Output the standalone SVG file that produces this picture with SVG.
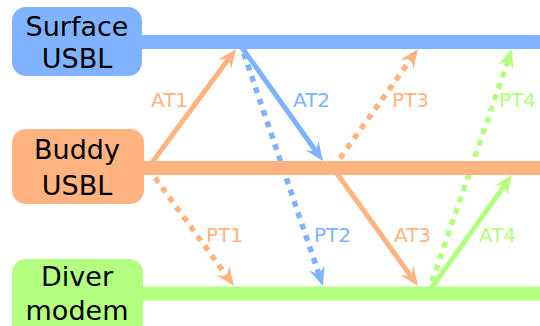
<svg xmlns="http://www.w3.org/2000/svg" width="540" height="326" viewBox="0 0 540 326">
<style>
.box-text{font-family:"DejaVu Sans",sans-serif;font-size:27px;fill:#000;text-anchor:middle}
.lbl{font-family:"DejaVu Sans",sans-serif;font-size:20px}
.blue{stroke:#80b3ff}
.orange{stroke:#ffb380}
.green{stroke:#b3ff80}
.solid{stroke-width:5;fill:none}
.dotted{stroke-width:5.5;fill:none;stroke-dasharray:6 6}
.life{stroke-width:14;fill:none}
</style>
<defs>
<marker id="hb" viewBox="-8 -9 22 18" markerWidth="22" markerHeight="18" refX="0" refY="0" orient="auto" markerUnits="userSpaceOnUse"><path d="M12,0 L-7,-8 L0,0 L-7,8 Z" fill="#80b3ff"/></marker>
<marker id="ho" viewBox="-8 -9 22 18" markerWidth="22" markerHeight="18" refX="0" refY="0" orient="auto" markerUnits="userSpaceOnUse"><path d="M12,0 L-7,-8 L0,0 L-7,8 Z" fill="#ffb380"/></marker>
<marker id="hg" viewBox="-8 -9 22 18" markerWidth="22" markerHeight="18" refX="0" refY="0" orient="auto" markerUnits="userSpaceOnUse"><path d="M12,0 L-7,-8 L0,0 L-7,8 Z" fill="#b3ff80"/></marker>
</defs>
<g id="connectors">
<line class="solid orange" x1="148" y1="168" x2="228.9" y2="58.6" marker-end="url(#ho)"/>
<line class="solid blue" x1="238" y1="42" x2="316" y2="151.2" marker-end="url(#hb)"/>
<line class="dotted orange" x1="148" y1="168" x2="226.9" y2="276.3" marker-end="url(#ho)"/>
<line class="dotted blue" x1="240" y1="42" x2="319.1" y2="274.6" marker-end="url(#hb)"/>
<line class="dotted orange" x1="333" y1="168" x2="411" y2="58.8" marker-end="url(#ho)"/>
<line class="solid orange" x1="333" y1="168" x2="411" y2="276.3" marker-end="url(#ho)"/>
<line class="solid green" x1="428" y1="293" x2="505" y2="184.8" marker-end="url(#hg)"/>
<line class="dotted green" x1="428" y1="293" x2="508.1" y2="60.3" marker-end="url(#hg)"/>
<text class="lbl" x="151" y="107" fill="#ffb380">AT1</text>
<text class="lbl" x="293" y="107" fill="#80b3ff">AT2</text>
<text class="lbl" x="392" y="107" fill="#ffb380">PT3</text>
<text class="lbl" x="499" y="107" fill="#b3ff80">PT4</text>
<text class="lbl" x="206" y="242" fill="#ffb380">PT1</text>
<text class="lbl" x="314" y="242" fill="#80b3ff">PT2</text>
<text class="lbl" x="394" y="242" fill="#ffb380">AT3</text>
<text class="lbl" x="479" y="242" fill="#b3ff80">AT4</text>
</g>
<g id="surface">
<line class="life blue" x1="140" y1="42" x2="540" y2="42"/>
<rect x="12" y="7" width="130" height="69" rx="14" fill="#80b3ff"/>
<text class="box-text" x="77" y="36">Surface</text>
<text class="box-text" x="77" y="68">USBL</text>
</g>
<g id="buddy">
<line class="life orange" x1="140" y1="168" x2="540" y2="168"/>
<rect x="12" y="129" width="132" height="75" rx="14" fill="#ffb380"/>
<text class="box-text" x="77" y="159">Buddy</text>
<text class="box-text" x="77" y="195">USBL</text>
</g>
<g id="diver">
<line class="life green" x1="140" y1="293.5" x2="540" y2="293.5"/>
<rect x="12" y="259" width="131" height="80" rx="14" fill="#b3ff80"/>
<text class="box-text" x="77" y="286">Diver</text>
<text class="box-text" x="77" y="320">modem</text>
</g>
</svg>
